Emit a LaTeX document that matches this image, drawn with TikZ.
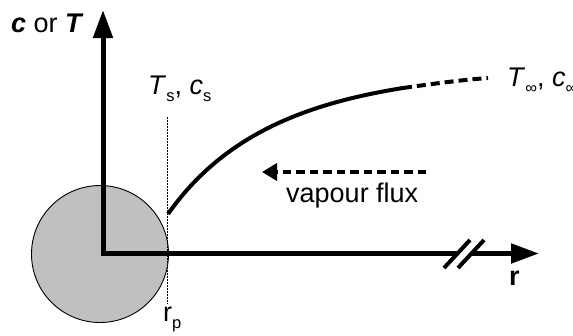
\documentclass[tikz,border=0pt]{standalone}
\usepackage{fontspec}
\setmainfont{Liberation Sans}
\usetikzlibrary{arrows.meta}
\definecolor{particlegray}{RGB}{192,192,192}
\newcommand\lowsub[1]{\raisebox{-7.5pt}{\fontsize{16.5}{16.5}\selectfont #1}}
\tikzset{
  particle/.style={circle, draw=black, line width=0.9pt, fill=particlegray, minimum size=137pt, inner sep=0pt},
  axis/.style={line width=5pt, line join=miter, {Triangle[length=28pt,width=19pt]}-{Triangle[length=28pt,width=19pt]}},
  profile/.style={line width=4pt},
  profiledash/.style={line width=4pt, dash pattern=on 9pt off 5pt},
  flux/.style={line width=4.5pt, dash pattern=on 8.5pt off 5pt, -{Triangle[length=15pt,width=17pt]}},
  guide/.style={line width=0.8pt, dash pattern=on 1.5pt off 1.5pt},
  brk/.style={line width=4pt},
  lbl/.style={anchor=base west, inner sep=0pt, font=\fontsize{27}{31}\selectfont},
}
\begin{document}
\begin{tikzpicture}[x=1pt,y=-1pt]
\useasboundingbox (0,0) rectangle (573,335);
% particle
\node[particle] (p) at (100,254) {};
% guide line at r_p
\coordinate (gtop) at (167.5,117);
\coordinate (gbot) at (167.5,304);
\draw[guide] (gtop) -- (gbot);
% axes
\coordinate (O) at (103,253.5);
\coordinate (ytip) at (103,10);
\coordinate (xtip) at (539,253.5);
\draw[axis] (ytip) -- (O) -- (xtip);
% axis break
\coordinate (b1) at (457,254);
\coordinate (b2) at (471,254);
\fill[white] ([shift={(-13,14)}]b1) -- ([shift={(13,-14)}]b1) -- ([shift={(13,-14)}]b2) -- ([shift={(-13,14)}]b2) -- cycle;
\draw[brk] ([shift={(-13,14)}]b1) -- ([shift={(13,-14)}]b1);
\draw[brk] ([shift={(-13,14)}]b2) -- ([shift={(13,-14)}]b2);
% profile curve
\coordinate (cs) at (168,214);
\coordinate (cm) at (403,88);
\coordinate (ce) at (488,78);
\draw[profile] (cs) .. controls (223,136) and (303,104) .. (cm);
\draw[profiledash] (cm) .. controls (432,84) and (460,80) .. (ce);
% vapour flux arrow
\coordinate (fs) at (426,172);
\coordinate (fe) at (262,172);
\draw[flux] (fs) -- (fe);
% labels
\node[lbl] (ylab) at (11,32) {\textbf{\textit{c}} or \textbf{\textit{T}}};
\node[lbl] (slab) at (148,94) {\textit{T}\lowsub{s}, \textit{c}\lowsub{s}};
\node[lbl] (inflab) at (507,86) {\textit{T}\lowsub{∞}, \textit{c}\lowsub{∞}};
\node[lbl] (fluxlab) at (286,202) {vapour flux};
\node[lbl] (rlab) at (509,285) {\textbf{r}};
\node[lbl] (rplab) at (163,321) {r\lowsub{p}};
\end{tikzpicture}
\end{document}
